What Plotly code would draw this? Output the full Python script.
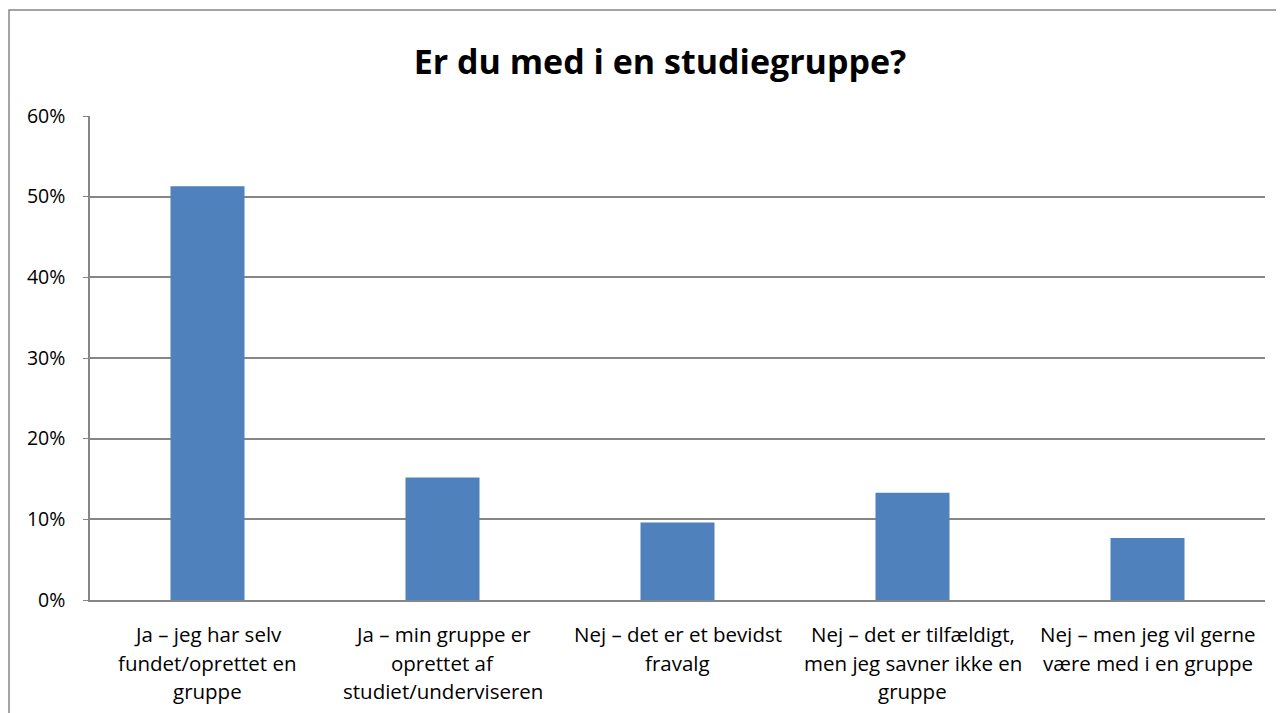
import plotly.graph_objects as go

title = "Er du med i en studiegruppe?"
categories = [
    ["Ja – jeg har selv", "fundet/oprettet en", "gruppe"],
    ["Ja – min gruppe er", "oprettet af", "studiet/underviseren"],
    ["Nej – det er et bevidst", "fravalg"],
    ["Nej – det er tilfældigt,", "men jeg savner ikke en", "gruppe"],
    ["Nej – men jeg vil gerne", "være med i en gruppe"],
]
values = [0.513, 0.152, 0.096, 0.133, 0.077]
y_ticks = [0, 0.1, 0.2, 0.3, 0.4, 0.5, 0.6]

cat_ids = ["c%d" % i for i in range(len(categories))]

FONT = "Open Sans, Lato, sans-serif"
GRID = "#868686"
OFF = 8  # page body offset

fig = go.Figure(go.Bar(x=cat_ids, y=values, marker=dict(color="#4F81BD", line=dict(width=0)),
                       width=0.315))

annotations = []
for cid, lines in zip(cat_ids, categories):
    for i, ln in enumerate(lines):
        annotations.append(dict(x=cid, xref="x", y=0, yref="y", yshift=-(34 + i * 28.5),
                                text=ln, showarrow=False, xanchor="center", yanchor="middle",
                                font=dict(family=FONT, size=20.5, color="#000000")))

fig.update_layout(
    width=1284, height=713,
    margin=dict(l=90 - OFF, r=1284 + OFF - 1265, t=116 - OFF, b=713 + OFF - 600),
    paper_bgcolor="white", plot_bgcolor="white",
    title=dict(text="<b>" + title + "</b>", x=(660 - OFF) / 1284, xanchor="center",
               y=1 - (62 - OFF) / 713, yanchor="middle",
               font=dict(family=FONT, size=34, color="#000000")),
    showlegend=False,
    annotations=annotations,
    shapes=[dict(type="rect", xref="paper", yref="paper",
                 x0=(9 - 90) / 1175, x1=1.2, y0=-0.5, y1=(600 - 10) / 484,
                 line=dict(color=GRID, width=1.5), fillcolor="rgba(0,0,0,0)", layer="below")],
)
fig.update_xaxes(showticklabels=False, showline=True, linecolor=GRID, linewidth=1.5,
                 showgrid=False, ticks="", range=[-0.5, 4.5])
fig.update_yaxes(range=[0, 0.6], tickvals=y_ticks, tickformat=".0%", showgrid=True,
                 gridcolor=GRID, gridwidth=1.5, showline=True, linecolor=GRID, linewidth=1.5,
                 ticks="outside", ticklen=5, tickcolor=GRID, zeroline=False,
                 ticklabelstandoff=14,
                 tickfont=dict(family=FONT, size=19.5, color="#000000"))

fig.write_html("out.html")
